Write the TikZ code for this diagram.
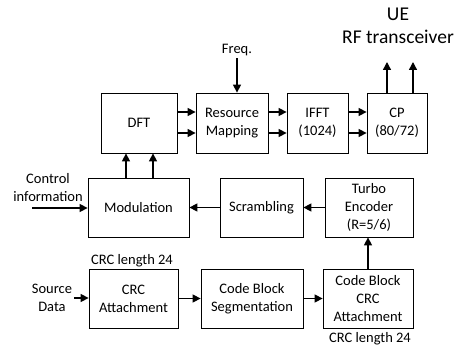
\documentclass[tikz,border=0pt]{standalone}
\usepackage{fontspec}
\setmainfont{Carlito}
\usetikzlibrary{arrows.meta}
\begin{document}
\begin{tikzpicture}[x=1pt,y=-1pt,
 blk/.style={draw,line width=0.8pt,inner sep=0pt,align=center,font=\fontsize{14.5}{18}\selectfont},
 lbl/.style={inner sep=0pt,align=center,font=\fontsize{14.5}{18}\selectfont},
 big/.style={inner sep=0pt,align=center,font=\fontsize{19.5}{22}\selectfont},
 arr/.style={line width=1.4pt,-{Triangle[length=8pt,width=8pt]}}]
\useasboundingbox (0,0) rectangle (464,350);
% top row
\node[blk,minimum width=76pt,minimum height=60pt] (dft) at (139,123) {DFT};
\node[blk,minimum width=72pt,minimum height=60pt] (rm) at (232,123) {Resource\\Mapping};
\node[blk,minimum width=61pt,minimum height=60pt] (ifft) at (317.5,123) {IFFT\\(1024)};
\node[blk,minimum width=60pt,minimum height=60pt] (cp) at (397,123) {CP\\(80/72)};
% middle row
\node[blk,minimum width=101pt,minimum height=59pt] (mod) at (138.5,207.5) {Modulation};
\node[blk,minimum width=83pt,minimum height=59pt] (scr) at (261.5,207.5) {Scrambling};
\node[blk,minimum width=88pt,minimum height=59pt] (turbo) at (369,207.5) {Turbo\\Encoder\\(R=5/6)};
% bottom row
\node[blk,minimum width=89pt,minimum height=59pt] (crc) at (133.5,298.5) {CRC\\Attachment};
\node[blk,minimum width=102pt,minimum height=59pt] (cbs) at (252,298.5) {Code Block\\Segmentation};
\node[blk,minimum width=90pt,minimum height=59pt] (cbcrc) at (368,298.5) {Code Block\\CRC\\Attachment};
% labels
\node[lbl] (freq) at (237,50) {Freq.};
\node[big] (ue) at (398,14) {UE};
\node[big] (rf) at (398,37) {RF transceiver};
\node[lbl] (ctrl) at (48,188) {Control\\information};
\node[lbl] (src) at (52,298) {Source\\Data};
\node[lbl] (crc1) at (132,261) {CRC length 24};
\node[lbl] (crc2) at (370,339) {CRC length 24};
\coordinate (o1) at (387,62);
\coordinate (o2) at (413,62);
\coordinate (cin) at (32,208);
% arrows top
\foreach \yy in {112,133}{
  \draw[arr] (dft.east |- 0,\yy) -- (rm.west |- 0,\yy);
  \draw[arr] (rm.east |- 0,\yy) -- (ifft.west |- 0,\yy);
  \draw[arr] (ifft.east |- 0,\yy) -- (cp.west |- 0,\yy);
}
\draw[arr] (freq.south) ++(0,2) -- (freq.south |- rm.north);
\draw[arr] (cp.north -| o1) -- (o1);
\draw[arr] (cp.north -| o2) -- (o2);
% middle
\foreach \xx in {126,153}{
  \draw[arr] (mod.north -| \xx,0) -- (dft.south -| \xx,0);
}
\draw[arr] (cin) -- (cin -| mod.west);
\draw[arr] (scr.west) -- (mod.east);
\draw[arr] (turbo.west) -- (scr.east);
% bottom
\draw[arr] ([xshift=2pt]src.east) -- (src.east -| crc.west);
\draw[arr] (crc.east) -- (cbs.west);
\draw[arr] (cbs.east) -- (cbcrc.west);
\draw[arr] (cbcrc.north) -- (cbcrc.north |- turbo.south);
\end{tikzpicture}
\end{document}
